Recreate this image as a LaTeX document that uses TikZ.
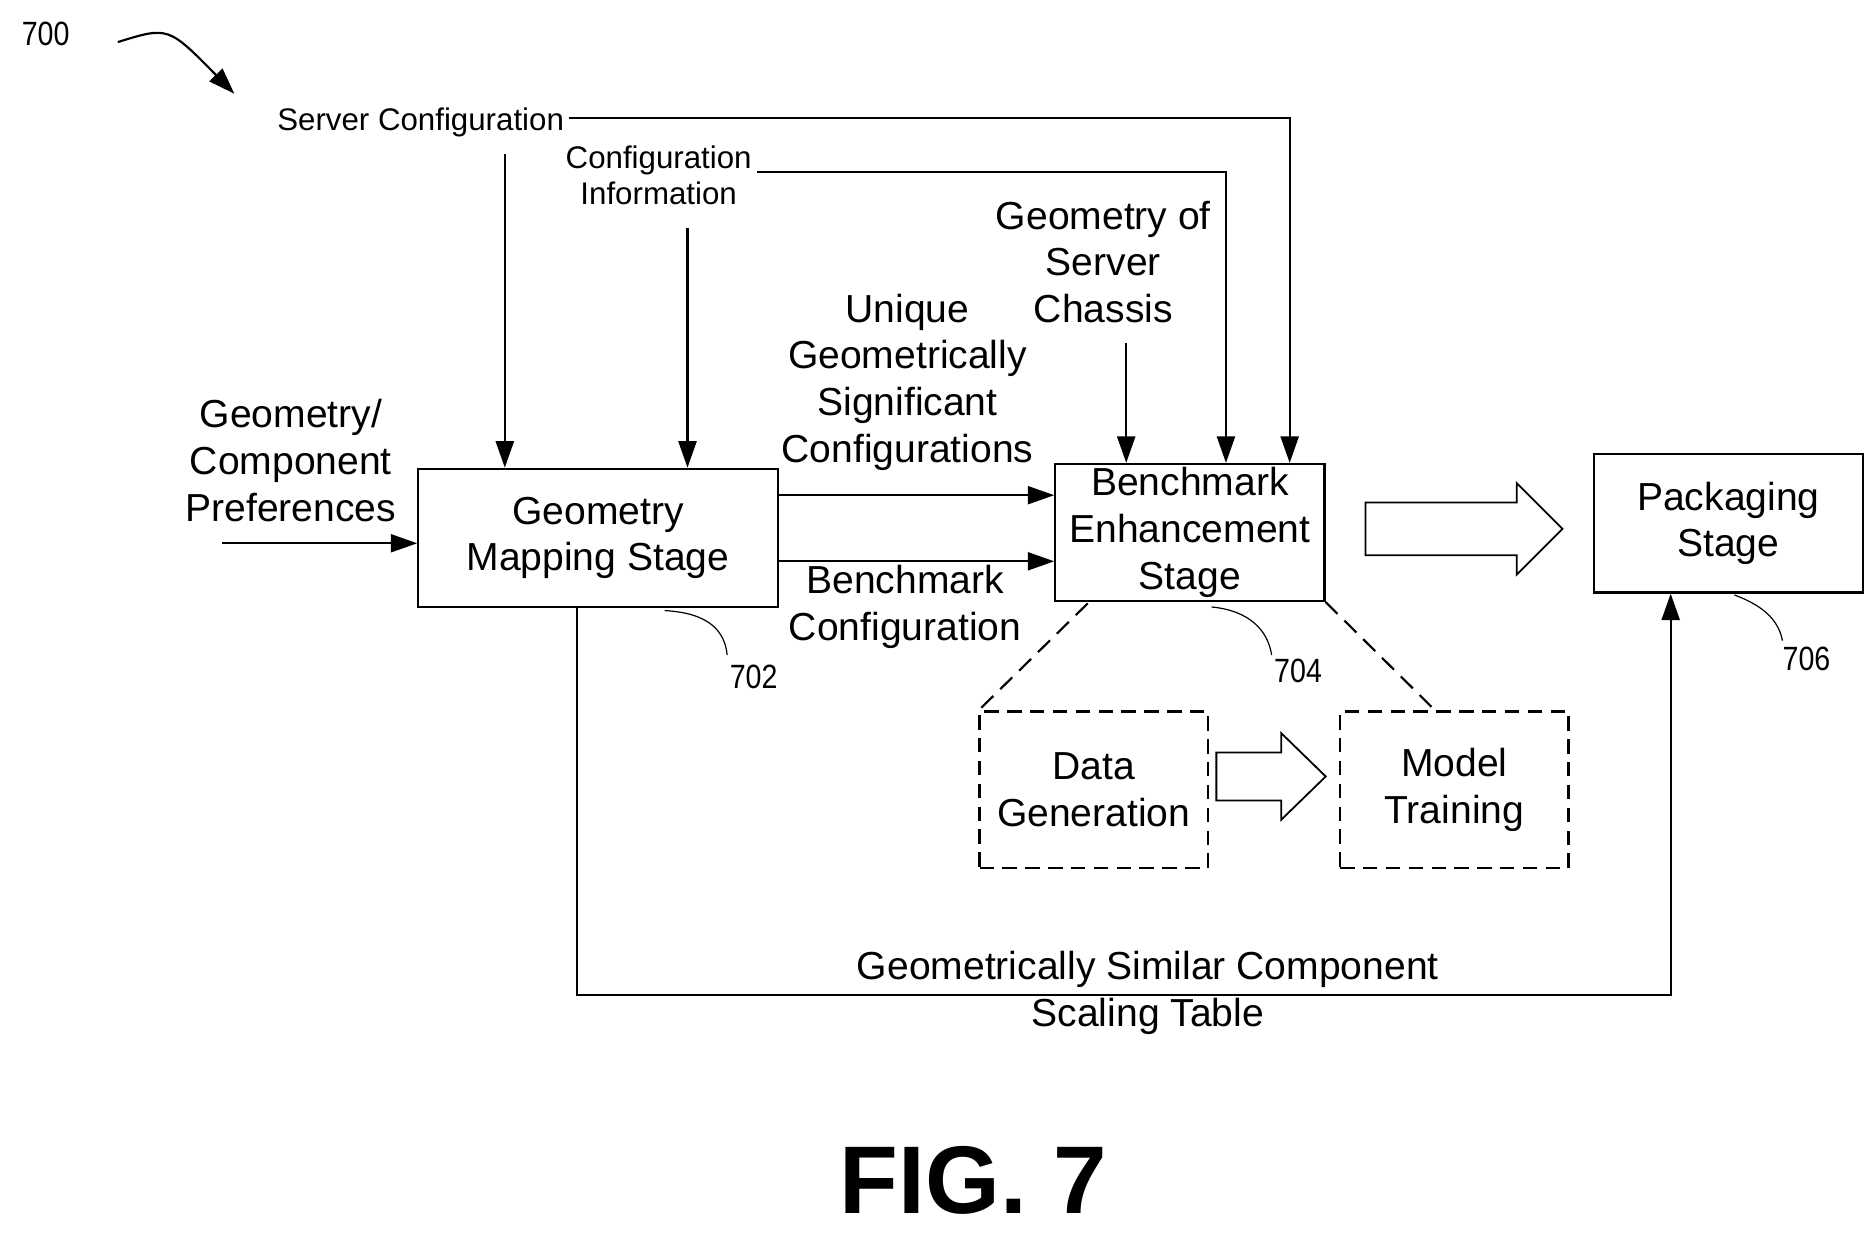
\documentclass[tikz,border=0pt]{standalone}
\usepackage{fontspec}
\setmainfont{Liberation Sans}
\usetikzlibrary{arrows.meta}
\begin{document}
\begin{tikzpicture}[x=1pt,y=-1pt,
  every node/.style={font=\fontsize{32.5}{39}\selectfont,align=center,inner sep=0},
  small/.style={font=\fontsize{26}{30}\selectfont},
  num/.style={font=\fontsize{28}{30}\selectfont,xscale=0.85},
  box/.style={draw,line width=1.8pt},
  dbox/.style={draw,line width=1.8pt,dash pattern=on 12pt off 7pt},
  ar/.style={line width=1.8pt,-{Triangle[length=22pt,width=15pt]}},
  ln/.style={line width=1.8pt},
  big/.style={draw,line width=1.5pt,fill=white}]
\useasboundingbox (0,0) rectangle (1560,1026);
\node[num] (n700) at (38,28) {700};
\coordinate (c700a) at (98,35); \coordinate (c700b) at (195,78);
\draw[ar] (c700a) .. controls (140,22) .. (c700b);
\node[small] (sc) at (350,102) {Server Configuration};
\node[small] (ci) at (548,146) {Configuration\\Information};
\node (gsc) at (918,218) {Geometry of\\Server\\Chassis};
\node (ugs) at (755,318) {Unique\\Geometrically\\Significant\\Configurations};
\node (gcp) at (242,383) {Geometry/\\Component\\Preferences};
\node[box,minimum width=299pt,minimum height=115pt] (gm) at (497.5,447.5) {Geometry\\Mapping Stage};
\node[box,minimum width=224pt,minimum height=114pt] (be) at (990,443) {Benchmark\\Enhancement\\Stage};
\node[box,minimum width=224pt,minimum height=115pt] (ps) at (1438,435.5) {Packaging\\Stage};
\node (bc) at (753,505) {Benchmark\\Configuration};
\node[dbox,minimum width=190pt,minimum height=130pt] (dg) at (910,657) {Data\\Generation};
\node[dbox,minimum width=190pt,minimum height=130pt] (mt) at (1210,657) {Model\\Training};
\node (tbl) at (955,826) {Geometrically Similar Component\\Scaling Table};
\node[font=\fontsize{80}{90}\selectfont\bfseries] (fig) at (810,982) {FIG. 7};
\node[num] (l702) at (627,563) {702};
\node[num] (l704) at (1080,558) {704};
\node[num] (l706) at (1503,548) {706};
% connectors
\coordinate (s1) at (420,128);
\draw[ar] (s1) -- (gm.north -| s1);
\coordinate (s2) at (572,190);
\draw[ar] (s2) -- (gm.north -| s2);
\coordinate (t1) at (1073,98);
\draw[ar] ([xshift=4pt]sc.east |- t1) -- (t1) -- (be.north -| t1);
\coordinate (t2) at (1020,143);
\draw[ar] (630,143) -- (t2) -- (be.north -| t2);
\coordinate (t3) at (937,285);
\draw[ar] (t3) -- (be.north -| t3);
\coordinate (i1) at (185,452);
\draw[ar] (i1) -- (gm.west |- i1);
\coordinate (m1) at (647,412); \coordinate (m2) at (647,467);
\draw[ar] (m1) -- (be.west |- m1);
\draw[ar] (m2) -- (be.west |- m2);
\coordinate (b1) at (480,505); \coordinate (b2) at (480,828); \coordinate (b3) at (1390,828);
\draw[ar] (b1) -- (b2) -- (b3) -- (ps.south -| b3);
% leaders
\draw[line width=1pt] (553,508) .. controls (590,510) and (603,525) .. (605,545);
\draw[line width=1pt] (1008,505) .. controls (1040,508) and (1055,525) .. (1058,545);
\draw[line width=1pt] (1443,495) .. controls (1470,505) and (1480,518) .. (1483,533);
% dashed zoom lines
\draw[ln,dash pattern=on 14pt off 8pt] (905,502) -- (dg.north west);
\draw[ln,dash pattern=on 14pt off 8pt] (be.south east) -- (1195,592);
% hollow arrows
\draw[big] (1136,418) -- (1262,418) -- (1262,402) -- (1300,440) -- (1262,478) -- (1262,462) -- (1136,462) -- cycle;
\draw[big] (1012,626) -- (1066,626) -- (1066,610) -- (1103,646) -- (1066,682) -- (1066,666) -- (1012,666) -- cycle;
\end{tikzpicture}
\end{document}
